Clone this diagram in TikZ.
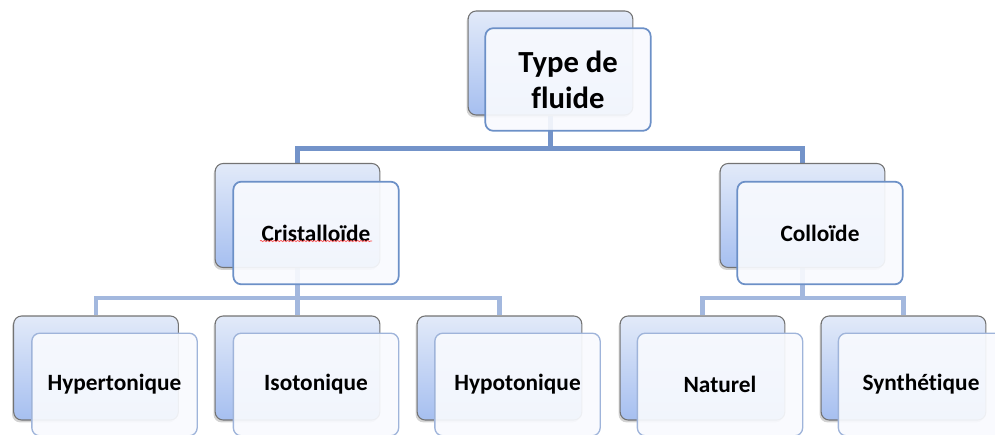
\documentclass[tikz,border=0pt]{standalone}
\usepackage{fontspec}
\setmainfont{Carlito}[Ligatures=NoCommon]
\usetikzlibrary{shadows,backgrounds,decorations.pathmorphing}

\definecolor{backtop}{HTML}{E2EAF9}
\definecolor{backbot}{HTML}{A6BFF0}
\definecolor{linkdark}{HTML}{7393C9}
\definecolor{linklight}{HTML}{A3B8DE}
\definecolor{framedark}{HTML}{6C90C7}
\definecolor{framelight}{HTML}{9FB4DA}
\definecolor{frontfill}{HTML}{F8FAFE}

\begin{document}
\begin{tikzpicture}
		[
		x=0.75pt, y=-0.75pt, font=\bfseries,
		%Hintere Karte
		back/.style={draw=black!55, line width=0.8pt, rounded corners=6pt,
			top color=backtop, bottom color=backbot,
			minimum width=123.5pt, minimum height=78pt,
			drop shadow={shadow xshift=-1.2pt, shadow yshift=-1.8pt, opacity=0.35}},
		%Vordere Karte
		front/.style={draw=framedark, line width=1.3pt, rounded corners=6pt,
			fill=frontfill, fill opacity=0.92, text opacity=1,
			minimum width=124pt, minimum height=77pt, align=center,
			font=\bfseries\fontsize{17.5}{21}\selectfont},
		frontlow/.style={front, draw=framelight, line width=1pt},
		link/.style={linkdark, line width=4pt},
		linklow/.style={linklight, line width=3.6pt}
		]
		
		%Rahmen
		\useasboundingbox (0,0) rectangle (995,435);
		\clip (0,0) rectangle (995,435);
		
		%Ebene 1
		\node[back] (typeB) at (550.5,63) {};
		\node[front, font=\bfseries\fontsize{23}{27}\selectfont] (typeF) at (568,79.5) {Type de\\fluide};
		
		%Ebene 2
		\node[back] (criB) at (297.5,215.5) {};
		\node[front] (criF) at (316,233) {Cristallo\"ide};
		\node[back] (colB) at (802.5,215.5) {};
		\node[front] (colF) at (820,233) {Collo\"ide};
		
		%Ebene 3
		\node[back] (hyperB) at (96,368) {};
		\node[frontlow] (hyperF) at (114.5,384.5) {Hypertonique};
		\node[back] (isoB) at (297.5,368) {};
		\node[frontlow] (isoF) at (316,384.5) {Isotonique};
		\node[back] (hypoB) at (499.5,368) {};
		\node[frontlow] (hypoF) at (517.5,384.5) {Hypotonique};
		\node[back] (natB) at (702.5,368) {};
		\node[frontlow] (natF) at (720,384.5) {Naturel};
		\node[back] (synB) at (903.5,368) {};
		\node[frontlow] (synF) at (921,384.5) {Synth\'etique};
		
		%Rote Wellenlinie
		\draw[red!70, line width=0.5pt, decorate, decoration={snake, amplitude=0.5pt, segment length=2.5pt}]
			(260,241) -- (372,241);
		
		%Verbindungen
		\begin{pgfonlayer}{background}
			\draw[link] (typeB.south) -- ++(0,33) coordinate (bus1) -| (criB.north);
			\draw[link] (bus1) -| (colB.north);
			\draw[linklow] (criB.south) -- ++(0,30) coordinate (bus2) -| (hyperB.north);
			\draw[linklow] (bus2) -- (isoB.north);
			\draw[linklow] (bus2) -| (hypoB.north);
			\draw[linklow] (colB.south) -- ++(0,30) coordinate (bus3) -| (natB.north);
			\draw[linklow] (bus3) -| (synB.north);
		\end{pgfonlayer}
	\end{tikzpicture}
\end{document}
